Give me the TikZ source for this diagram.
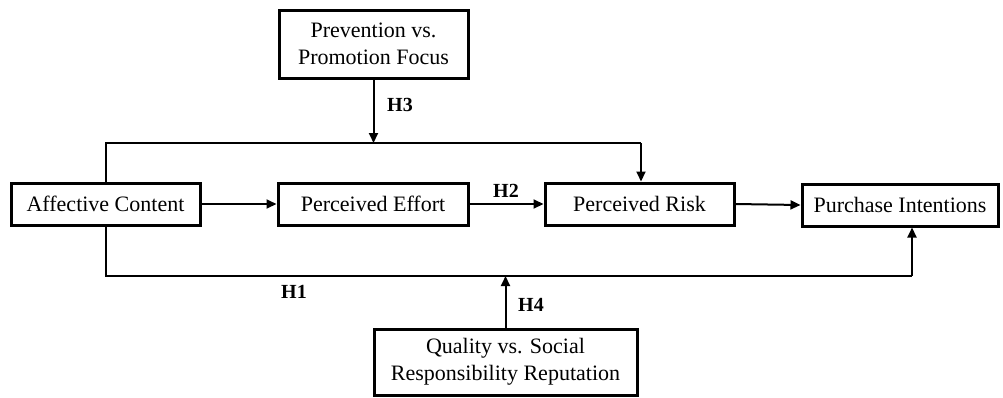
\documentclass[tikz,border=0pt]{standalone}
\usepackage{fontspec}
\setmainfont{Liberation Serif}
\usetikzlibrary{arrows.meta}
\begin{document}
\begin{tikzpicture}[x=1pt,y=-1pt,
  box/.style={draw, line width=3pt, inner sep=0pt, align=center,
    font=\fontsize{22}{27}\selectfont},
  conn/.style={line width=2pt},
  arr/.style={conn, -{Triangle[length=10pt,width=9pt]}},
  hlab/.style={inner sep=0pt, font=\fontsize{20}{24}\selectfont\bfseries}]
\useasboundingbox (0,0) rectangle (1003,397);
\node[box, minimum width=189pt, minimum height=42pt] (ac) at (105.5,204) {Affective Content};
\node[box, minimum width=190pt, minimum height=42pt] (pe) at (373,204) {Perceived Effort};
\node[box, minimum width=189pt, minimum height=42pt] (pr) at (639.5,204) {Perceived Risk};
\node[box, minimum width=196pt, minimum height=42pt] (pi) at (900,205) {Purchase Intentions};
\node[box, minimum width=189pt, minimum height=68pt] (pf) at (373.5,44) {Prevention vs.\\Promotion Focus};
\node[box, minimum width=263pt, minimum height=66pt] (q) at (505.5,362) {Quality vs. Social\\Responsibility Reputation};
\coordinate (tl) at (106,143);
\coordinate (tr) at (641,143);
\coordinate (tm) at (373.5,143);
\coordinate (bl) at (106,276);
\coordinate (br) at (912,276);
\coordinate (bm) at (505.5,276);
\draw[conn] (ac.north -| tl) -- (tl) -- (tr);
\draw[arr] (tr) -- (tr |- pr.north);
\draw[arr] (pf.south) -- (tm);
\draw[conn] (ac.south -| bl) -- (bl) -- (br);
\draw[arr] (br) -- (br |- pi.south);
\draw[arr] (q.north) -- (bm);
\draw[arr] (ac.east) -- (pe.west);
\draw[arr] (pe.east) -- (pr.west);
\draw[arr] (pr.east) -- (pi.west);
\node[hlab] (h1) at (294,292) {H1};
\node[hlab] (h2) at (506,191) {H2};
\node[hlab] (h3) at (400,105) {H3};
\node[hlab] (h4) at (531,305) {H4};
\end{tikzpicture}
\end{document}
